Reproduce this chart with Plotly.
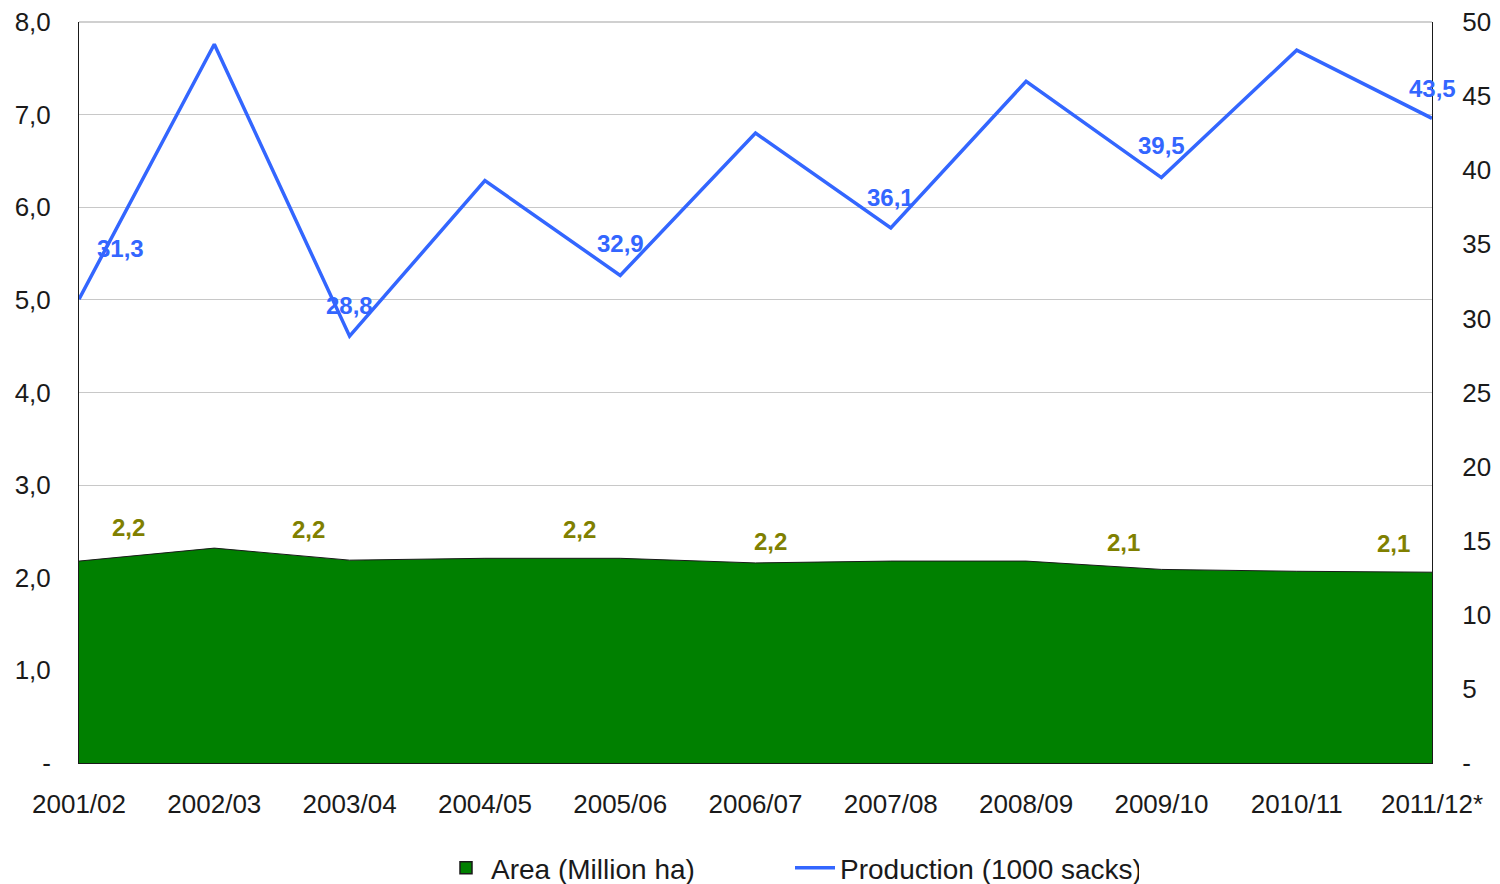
import plotly.graph_objects as go

categories = ["2001/02", "2002/03", "2003/04", "2004/05", "2005/06", "2006/07",
              "2007/08", "2008/09", "2009/10", "2010/11", "2011/12*"]
area_mha = [2.18, 2.32, 2.19, 2.21, 2.21, 2.16, 2.18, 2.18, 2.09, 2.07, 2.06]
production = [31.3, 48.5, 28.8, 39.3, 32.9, 42.5, 36.1, 46.0, 39.5, 48.1, 43.5]

left_tickvals = [0, 1, 2, 3, 4, 5, 6, 7, 8]
left_ticktext = ["-", "1,0", "2,0", "3,0", "4,0", "5,0", "6,0", "7,0", "8,0"]
right_tickvals = [0, 5, 10, 15, 20, 25, 30, 35, 40, 45, 50]
right_ticktext = ["-", "5", "10", "15", "20", "25", "30", "35", "40", "45", "50"]

# labelled points: (index, text, xshift, yshift)
area_labels = [(0, "2,2", 49, 34), (2, "2,2", -41, 31), (4, "2,2", -41, 29),
               (6, "2,2", -120, 20), (8, "2,1", -38, 27), (10, "2,1", -39, 29)]
prod_labels = [(0, "31,3", 41, 51), (2, "28,8", 0, 31), (4, "32,9", 0, 32),
               (6, "36,1", 0, 31), (8, "39,5", 0, 32), (10, "43,5", 0, 30)]

FONT = "Liberation Sans, Arial, sans-serif"
xs = list(range(len(categories)))

# the page body has an 8px default margin; size the figure to fit the window
W, H, OFF = 1500, 884, 8

fig = go.Figure()
fig.add_trace(go.Scatter(
    x=xs, y=area_mha, name="Area (Million ha)", mode="lines",
    fill="tozeroy", fillcolor="#008000", showlegend=False,
    line=dict(color="#1a1a1a", width=1), yaxis="y"))
# legend entry for the area (box symbol)
fig.add_trace(go.Bar(
    x=[None], y=[None], name="Area (Million ha)",
    marker=dict(color="#008000", line=dict(color="#1a1a1a", width=1.5)),
    showlegend=True, yaxis="y"))
fig.add_trace(go.Scatter(
    x=xs, y=production, name="Production (1000 sacks)", mode="lines",
    line=dict(color="#3366FF", width=3.5), yaxis="y2"))

for i, t, dx, dy in area_labels:
    fig.add_annotation(x=i, y=area_mha[i], xref="x", yref="y", text=t,
                       showarrow=False, xshift=dx, yshift=dy,
                       font=dict(family=FONT, size=24, color="#808000", weight="bold"))
for i, t, dx, dy in prod_labels:
    fig.add_annotation(x=i, y=production[i], xref="x", yref="y2", text=t,
                       showarrow=False, xshift=dx, yshift=dy,
                       font=dict(family=FONT, size=24, color="#3366FF", weight="bold"))

# grey top border of the plot area (gridline at 8,0)
fig.add_shape(type="line", xref="paper", yref="paper", x0=0, x1=1, y0=1, y1=1,
              line=dict(color="#c0c0c0", width=1.5), layer="below")

fig.update_layout(
    width=W - OFF, height=H - OFF,
    margin=dict(l=79 - OFF, r=68, t=22 - OFF, b=121),
    paper_bgcolor="white", plot_bgcolor="white",
    font=dict(family=FONT, size=26, color="#1a1a1a"),
    showlegend=True,
    legend=dict(orientation="h", xref="container", yref="container",
                x=(790 - OFF) / (W - OFF), xanchor="center",
                y=1 - (868 - OFF) / (H - OFF), yanchor="middle",
                font=dict(size=28, color="#1a1a1a"), entrywidth=294,
                itemwidth=40, traceorder="normal"),
    xaxis=dict(range=[0, 10], tickvals=xs, ticktext=categories, showgrid=False,
               zeroline=False, showline=True, linecolor="#1a1a1a", linewidth=1,
               ticks="", ticklabelstandoff=18, automargin=False,
               ticklabeloverflow="allow"),
    yaxis=dict(range=[0, 8], tickvals=left_tickvals, ticktext=left_ticktext,
               showgrid=True, gridcolor="#c8c8c8", gridwidth=1, zeroline=False,
               showline=True, linecolor="#1a1a1a", linewidth=1, ticks="",
               ticklabelstandoff=22, automargin=False, ticklabeloverflow="allow"),
    yaxis2=dict(range=[0, 50], tickvals=right_tickvals, ticktext=right_ticktext,
                overlaying="y", side="right", showgrid=False, zeroline=False,
                showline=True, linecolor="#1a1a1a", linewidth=1, ticks="",
                ticklabelstandoff=24, automargin=False, ticklabeloverflow="allow"),
)
fig.write_html("out.html")
